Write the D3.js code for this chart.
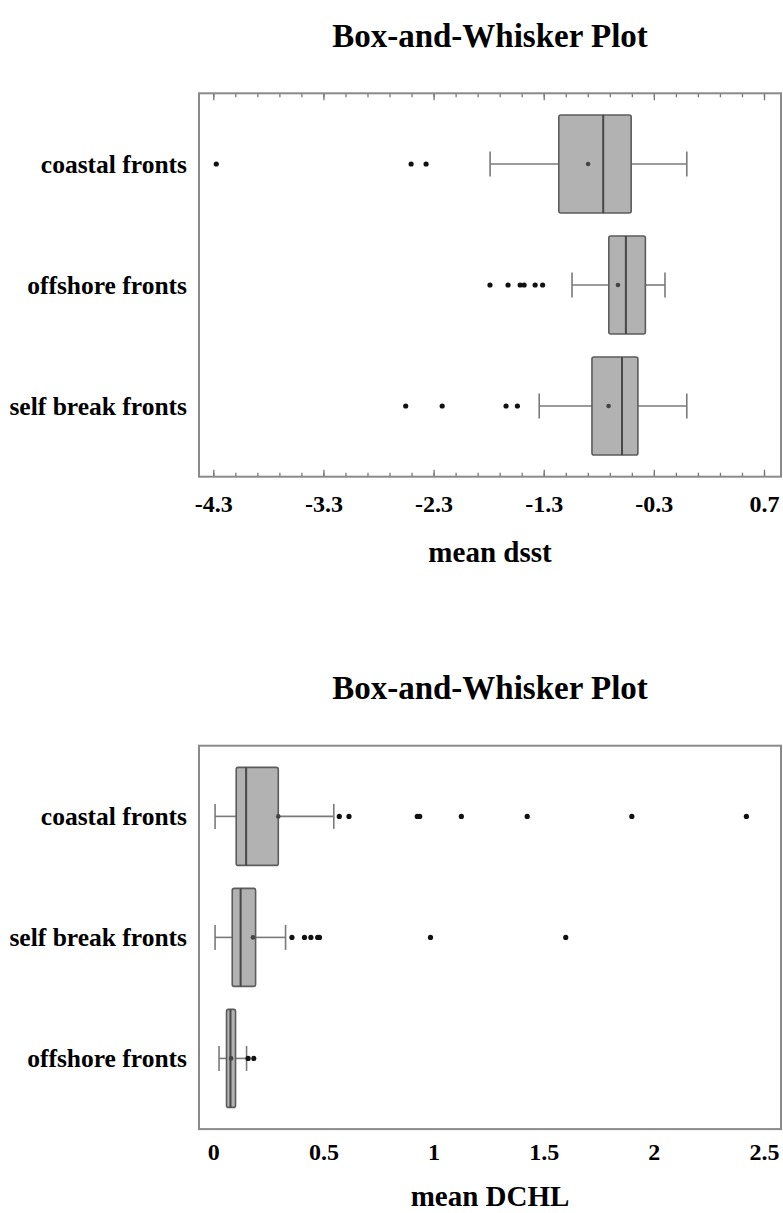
<!DOCTYPE html>
<html>
<head>
<meta charset="utf-8">
<script src="https://cdn.jsdelivr.net/npm/d3@7"></script>
<style>
  body { margin: 0; background: #fff; }
  text { font-family: "Liberation Serif", "Times New Roman", serif; font-weight: bold; fill: #000; }
</style>
</head>
<body>
<div id="chart"></div>
<script>
// panel 1: mean dsst
const dsstCategories = ["coastal fronts", "offshore fronts", "self break fronts"];
const dsstLowWhisker = [-1.787, -1.043, -1.341];
const dsstQ1 = [-1.163, -0.709, -0.862];
const dsstMedian = [-0.760, -0.554, -0.589];
const dsstMean = [-0.897, -0.626, -0.711];
const dsstQ3 = [-0.506, -0.377, -0.445];
const dsstHighWhisker = [-0.001, -0.199, -0.001];
const dsstOutliers = [
    [-4.273, -2.504, -2.368],
    [-1.788, -1.624, -1.514, -1.478, -1.378, -1.310],
    [-2.553, -2.222, -1.642, -1.539]
];
const dsstTicks = [-4.3, -3.3, -2.3, -1.3, -0.3, 0.7];

// panel 2: mean DCHL
const dchlCategories = ["coastal fronts", "self break fronts", "offshore fronts"];
const dchlLowWhisker = [0.008, 0.008, 0.026];
const dchlQ1 = [0.104, 0.086, 0.060];
const dchlMedian = [0.149, 0.124, 0.078];
const dchlMean = [0.295, 0.180, 0.081];
const dchlQ3 = [0.295, 0.192, 0.101];
const dchlHighWhisker = [0.547, 0.328, 0.151];
const dchlOutliers = [
    [0.572, 0.616, 0.926, 0.937, 1.126, 1.425, 1.900, 2.420],
    [0.357, 0.414, 0.443, 0.474, 0.482, 0.986, 1.600],
    [0.158, 0.184]
];
const dchlTicks = [0, 0.5, 1, 1.5, 2, 2.5];

const svg = d3.select("#chart").append("svg")
    .attr("width", 783)
    .attr("height", 1213);

function boxPlot(opt) {
    const frameLeft = 199, frameRight = 781;
    const top = opt.top, bottom = opt.top + 383.4;
    const g = svg.append("g");

    const x = d3.scaleLinear()
        .domain(opt.domain)
        .range([213.3, 764]);

    const y = d3.scalePoint()
        .domain(opt.categories)
        .range([top, bottom])
        .padding(0.584);

    const half = 49, cap = 12.5;

    g.append("text")
        .attr("x", (frameLeft + frameRight) / 2)
        .attr("y", top - 46.6)
        .attr("text-anchor", "middle")
        .attr("font-size", 33)
        .text("Box-and-Whisker Plot");

    // inward ticks on top and bottom edges
    if (opt.minor) {
        [[d3.axisBottom, top], [d3.axisTop, bottom]].forEach(([ax, yy]) => {
            g.append("g")
                .attr("transform", `translate(0,${yy})`)
                .call(ax(x).tickValues(opt.minor).tickSize(4).tickFormat(""))
                .call(a => a.select(".domain").remove())
                .call(a => a.selectAll("line").attr("stroke", "#777").attr("stroke-width", 1.3));
            g.append("g")
                .attr("transform", `translate(0,${yy})`)
                .call(ax(x).tickValues(opt.ticks).tickSize(7).tickFormat(""))
                .call(a => a.select(".domain").remove())
                .call(a => a.selectAll("line").attr("stroke", "#777").attr("stroke-width", 1.3));
        });
    }

    // tick labels
    g.append("g")
        .attr("transform", `translate(0,${bottom})`)
        .call(d3.axisBottom(x).tickValues(opt.ticks).tickSize(0).tickPadding(0)
            .tickFormat(d => String(d)))
        .call(a => a.select(".domain").remove())
        .call(a => a.selectAll("text")
            .attr("dy", null)
            .attr("y", opt.labelOffset)
            .attr("font-size", 24)
            .attr("font-family", "Liberation Serif")
            .attr("font-weight", "bold")
            .attr("fill", "#000"));

    g.append("text")
        .attr("x", (frameLeft + frameRight) / 2)
        .attr("y", bottom + opt.titleOffset)
        .attr("text-anchor", "middle")
        .attr("font-size", 29)
        .text(opt.title);

    // category labels
    g.selectAll(".cat")
        .data(opt.categories)
        .join("text")
        .attr("class", "cat")
        .attr("x", 187)
        .attr("y", d => y(d) + 9)
        .attr("text-anchor", "end")
        .attr("font-size", 25.5)
        .text(d => d);

    const rows = opt.categories.map((c, i) => ({
        c, lo: opt.lo[i], q1: opt.q1[i], med: opt.med[i], mean: opt.mean[i],
        q3: opt.q3[i], hi: opt.hi[i], out: opt.out[i]
    }));

    const row = g.selectAll(".row").data(rows).join("g").attr("class", "row");

    row.append("line")
        .attr("x1", d => x(d.lo)).attr("x2", d => x(d.q1))
        .attr("y1", d => y(d.c)).attr("y2", d => y(d.c))
        .attr("stroke", "#7a7a7a").attr("stroke-width", 1.6);
    row.append("line")
        .attr("x1", d => x(d.q3)).attr("x2", d => x(d.hi))
        .attr("y1", d => y(d.c)).attr("y2", d => y(d.c))
        .attr("stroke", "#7a7a7a").attr("stroke-width", 1.6);
    row.append("line")
        .attr("x1", d => x(d.lo)).attr("x2", d => x(d.lo))
        .attr("y1", d => y(d.c) - cap).attr("y2", d => y(d.c) + cap)
        .attr("stroke", "#7a7a7a").attr("stroke-width", 1.6);
    row.append("line")
        .attr("x1", d => x(d.hi)).attr("x2", d => x(d.hi))
        .attr("y1", d => y(d.c) - cap).attr("y2", d => y(d.c) + cap)
        .attr("stroke", "#7a7a7a").attr("stroke-width", 1.6);

    row.append("rect")
        .attr("x", d => x(d.q1))
        .attr("y", d => y(d.c) - half)
        .attr("width", d => x(d.q3) - x(d.q1))
        .attr("height", half * 2)
        .attr("rx", 2)
        .attr("fill", "#b2b2b2")
        .attr("stroke", "#5c5c5c")
        .attr("stroke-width", 1.6);

    row.append("line")
        .attr("x1", d => x(d.med)).attr("x2", d => x(d.med))
        .attr("y1", d => y(d.c) - half).attr("y2", d => y(d.c) + half)
        .attr("stroke", "#474747").attr("stroke-width", 2);

    row.append("circle")
        .attr("cx", d => x(d.mean)).attr("cy", d => y(d.c))
        .attr("r", 2.3).attr("fill", "#444");

    row.selectAll(".out")
        .data(d => d.out.map(v => ({ v, c: d.c })))
        .join("circle")
        .attr("class", "out")
        .attr("cx", d => x(d.v)).attr("cy", d => y(d.c))
        .attr("r", 2.6).attr("fill", "#111");

    g.append("rect")
        .attr("x", frameLeft).attr("y", top)
        .attr("width", frameRight - frameLeft).attr("height", bottom - top)
        .attr("fill", "none").attr("stroke", "#8a8a8a").attr("stroke-width", 2);
}

boxPlot({
    top: 93.3, domain: [-4.3, 0.7], categories: dsstCategories,
    lo: dsstLowWhisker, q1: dsstQ1, med: dsstMedian, mean: dsstMean,
    q3: dsstQ3, hi: dsstHighWhisker, out: dsstOutliers,
    ticks: dsstTicks, minor: d3.range(-4.3, 0.71, 0.2),
    labelOffset: 35, titleOffset: 85, title: "mean dsst"
});

boxPlot({
    top: 745.7, domain: [0, 2.5], categories: dchlCategories,
    lo: dchlLowWhisker, q1: dchlQ1, med: dchlMedian, mean: dchlMean,
    q3: dchlQ3, hi: dchlHighWhisker, out: dchlOutliers,
    ticks: dchlTicks, minor: null,
    labelOffset: 31, titleOffset: 77, title: "mean DCHL"
});
</script>
</body>
</html>
